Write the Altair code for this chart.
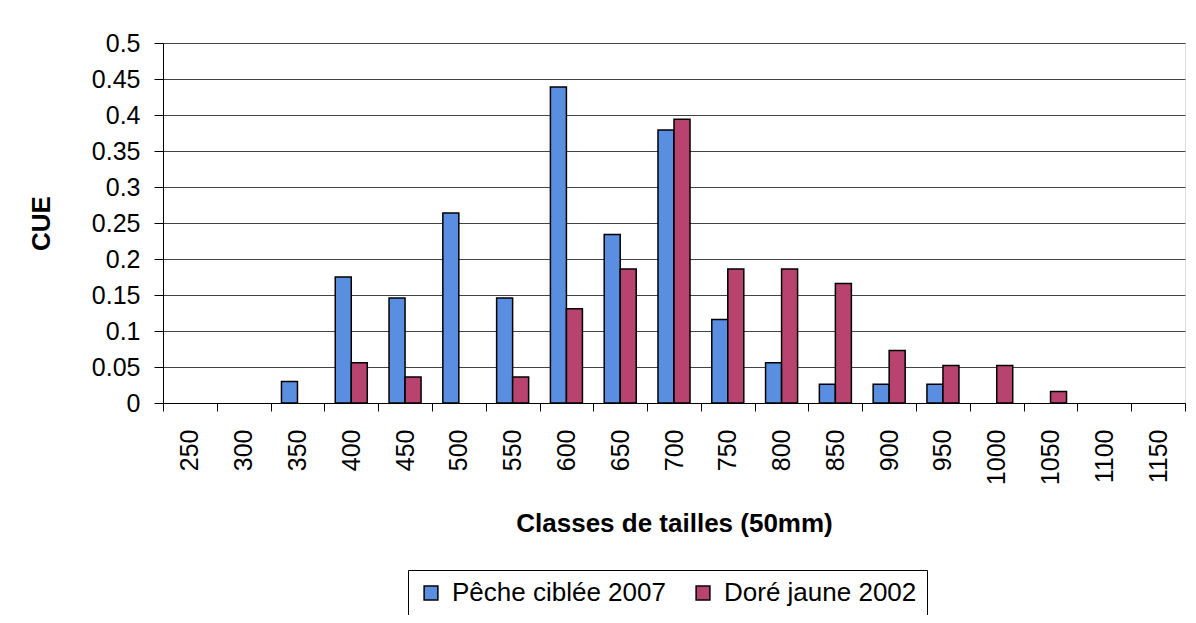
import altair as alt
import pandas as pd

classes = ["250", "300", "350", "400", "450", "500", "550", "600", "650", "700",
           "750", "800", "850", "900", "950", "1000", "1050", "1100", "1150"]
peche_2007 = [0, 0, 0.03, 0.175, 0.146, 0.264, 0.146, 0.439, 0.234, 0.379,
              0.116, 0.056, 0.026, 0.026, 0.026, 0, 0, 0, 0]
dore_2002 = [0, 0, 0, 0.056, 0.036, 0, 0.036, 0.131, 0.186, 0.394,
             0.186, 0.186, 0.166, 0.073, 0.052, 0.052, 0.016, 0, 0]
series_names = ["Pêche ciblée 2007", "Doré jaune 2002"]
colors = ["#5A8EE0", "#B8436E"]

rows = []
for i, c in enumerate(classes):
    rows.append({"classe": c, "serie": series_names[0], "cue": peche_2007[i]})
    rows.append({"classe": c, "serie": series_names[1], "cue": dore_2002[i]})
df = pd.DataFrame(rows)
df = df[df["cue"] > 0]

FONT = "Liberation Sans"

xscale = alt.Scale(domain=classes, paddingInner=0, paddingOuter=0)
xaxis = alt.Axis(title="Classes de tailles (50mm)", labelAngle=270,
                 labelFontSize=25, labelFont=FONT, labelColor="black",
                 labelPadding=18, labelLimit=200,
                 ticks=True, tickBand="extent", tickSize=8, tickColor="black",
                 titleFontSize=26, titleFont=FONT, titleFontWeight="bold",
                 titleColor="black", titlePadding=26,
                 domainColor="black", domainWidth=1)

bars = alt.Chart(df).mark_bar(stroke="black", strokeWidth=1.5).encode(
    x=alt.X("classe:N", sort=classes, scale=xscale, axis=xaxis),
    xOffset=alt.XOffset("serie:N", sort=series_names,
                        scale=alt.Scale(domain=series_names, paddingInner=0, paddingOuter=0.68)),
    y=alt.Y("cue:Q", scale=alt.Scale(domain=[0, 0.5], nice=False),
            axis=alt.Axis(title="CUE", values=[i * 0.05 for i in range(11)],
                          labelExpr="format(datum.value, '.2~f')",
                          labelFontSize=25, labelFont=FONT, labelColor="black",
                          labelPadding=14, tickSize=9, tickColor="black",
                          titleFontSize=26, titleFont=FONT, titleFontWeight="bold",
                          titleColor="black", titlePadding=37,
                          domainColor="black", gridColor="#444444", gridWidth=1,
                          grid=True)),
    color=alt.Color("serie:N", sort=series_names,
                    scale=alt.Scale(domain=series_names, range=colors),
                    legend=alt.Legend(title=None, orient="none", legendX=245, legendY=527,
                                      direction="horizontal", labelFontSize=26,
                                      labelFont=FONT, labelColor="black", labelLimit=400,
                                      symbolType="square", symbolSize=190,
                                      symbolStrokeColor="black", symbolStrokeWidth=1.5,
                                      strokeColor="black", padding=10, columnPadding=24,
                                      labelOffset=8)),
)

chart = bars.properties(
    width=1022, height=360,
    autosize=alt.AutoSizeParams(type="none"),
    padding={"left": 155, "top": 35, "right": 3, "bottom": 212},
).configure_view(stroke=None).configure(background="white")

chart.save("out.html", embed_options={"renderer": "svg", "actions": False})
